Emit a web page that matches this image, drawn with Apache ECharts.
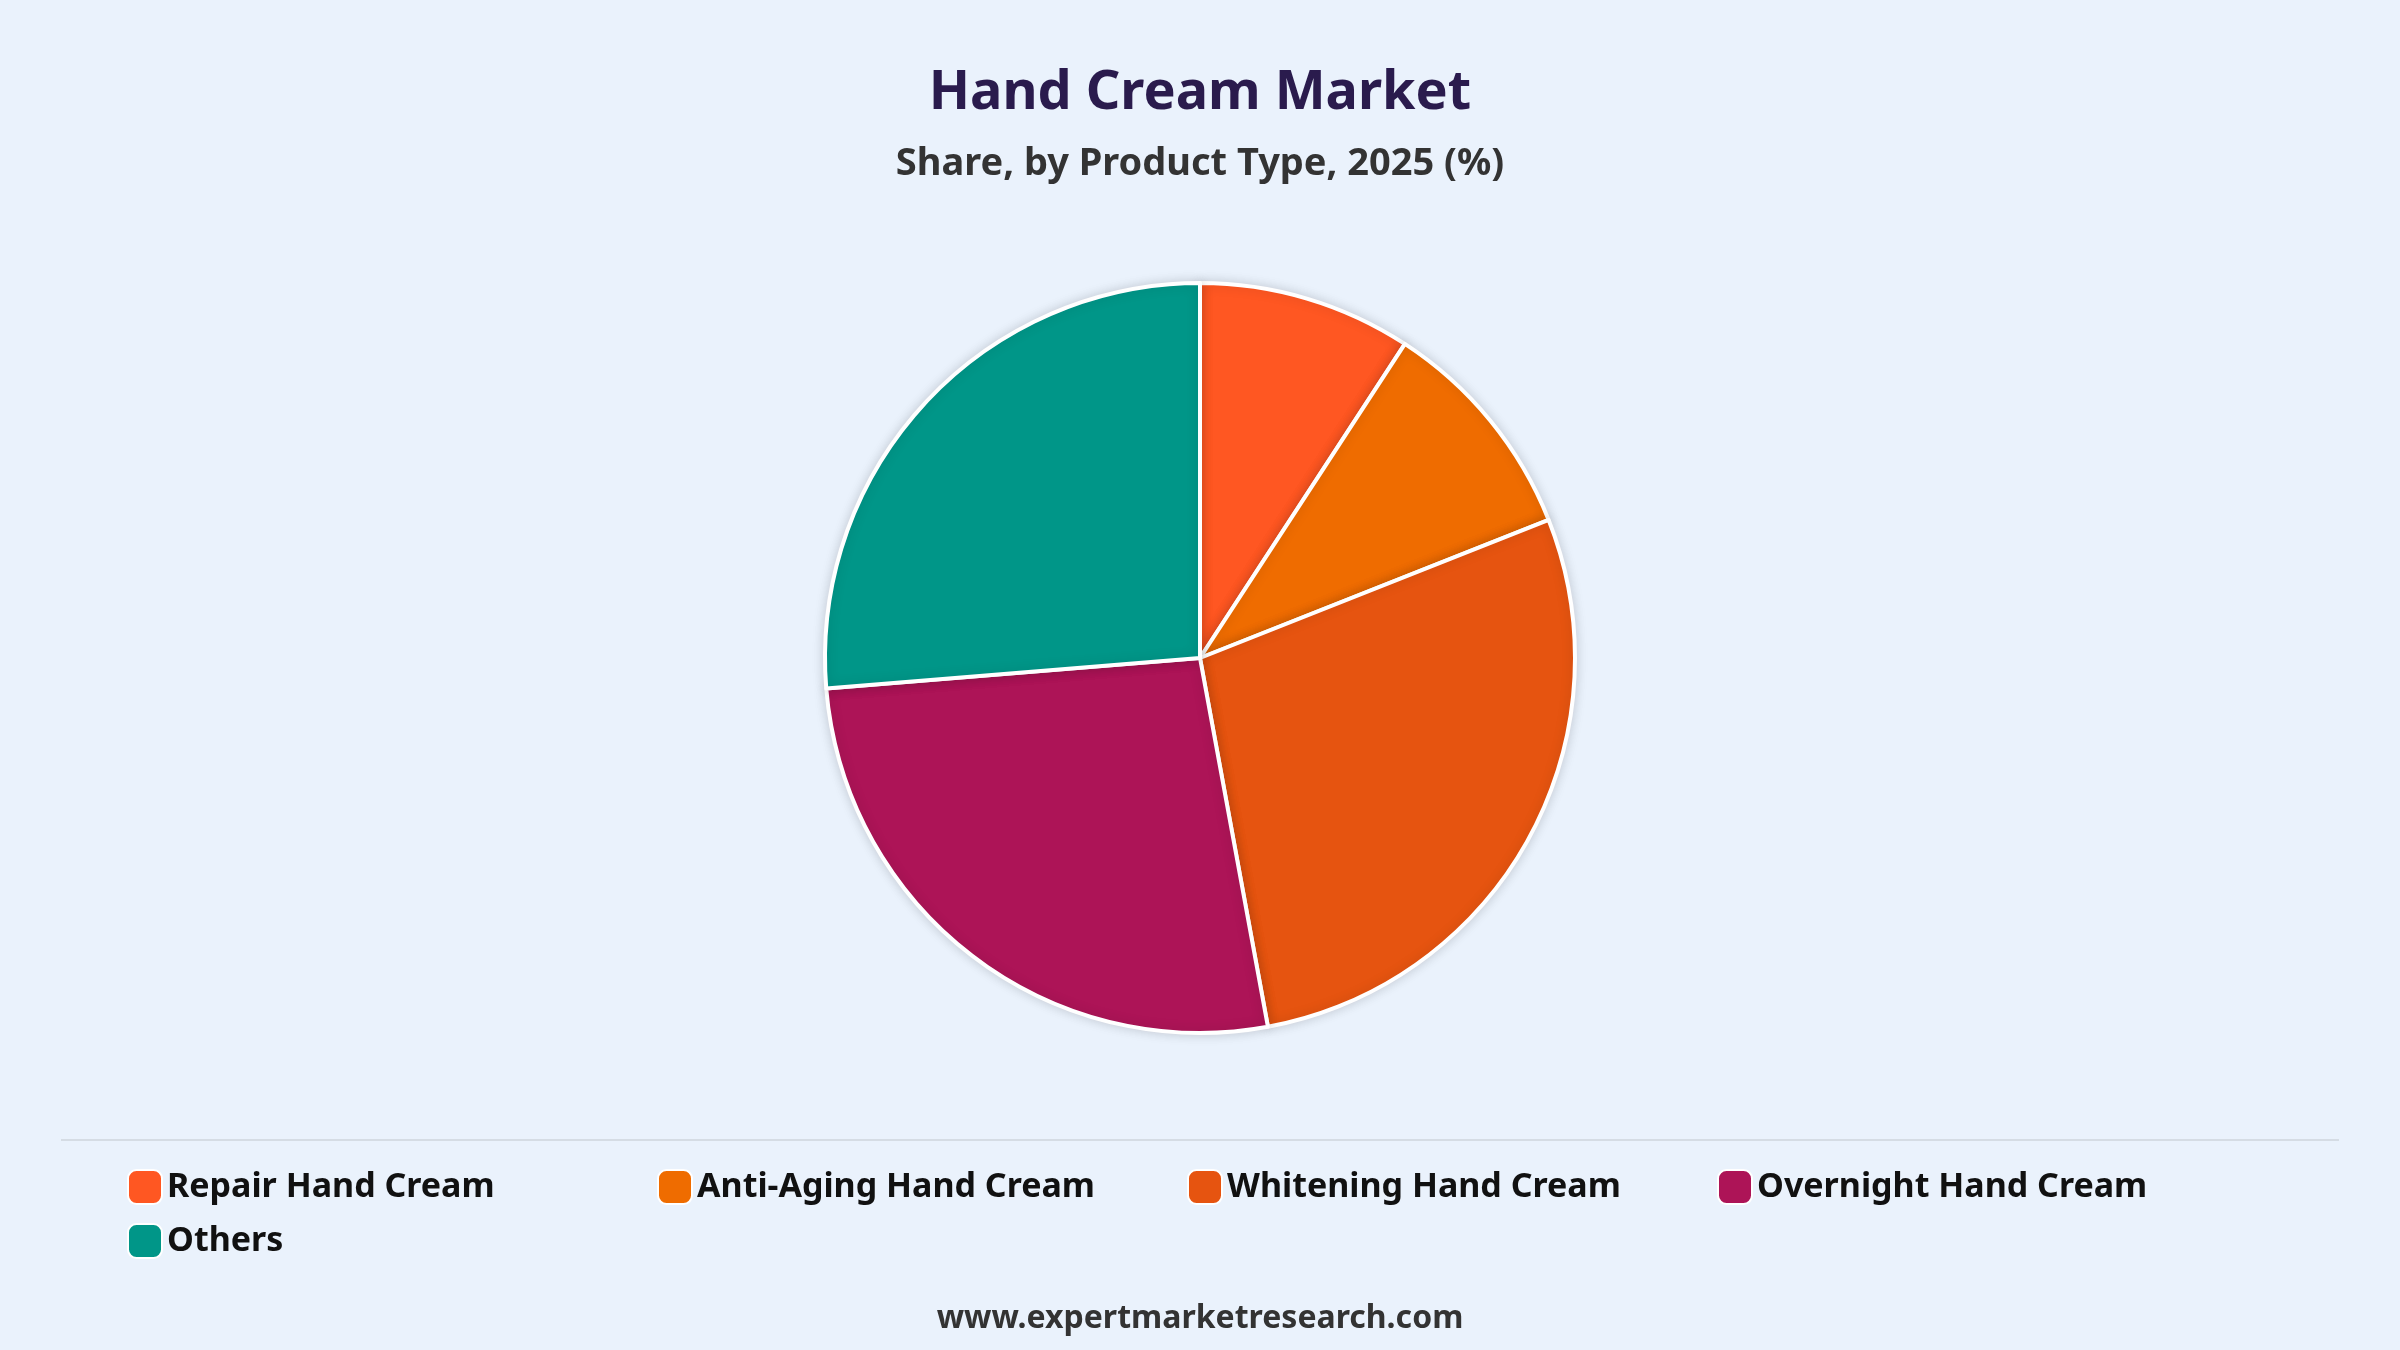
<!DOCTYPE html>
<html><head><meta charset="utf-8">
<script src="https://cdn.jsdelivr.net/npm/echarts@6/dist/echarts.min.js"></script>
<style>html,body{margin:0;padding:0;background:#EAF2FC}#c{width:2400px;height:1350px}</style>
</head><body><div id="c"></div>
<script>
const categories = ["Repair Hand Cream","Anti-Aging Hand Cream","Whitening Hand Cream","Overnight Hand Cream","Others"];
const values = [9.2, 9.8, 28.1, 26.6, 26.3];
const colors = ["#FF5722","#EF6C00","#E65410","#AD1457","#009688"];
const font = "'Noto Sans','Open Sans',sans-serif";
const chart = echarts.init(document.getElementById('c'));
chart.setOption({
  backgroundColor:'#EAF2FC',
  title:[
    {text:'Hand Cream Market',left:'center',top:62,textStyle:{fontFamily:font,fontSize:54,fontWeight:'bold',color:'#2A1B4D'}},
    {text:'Share, by Product Type, 2025 (%)',left:'center',top:140,textStyle:{fontFamily:font,fontSize:38,fontWeight:'bold',color:'#333'}},
    {text:'www.expertmarketresearch.com',left:'center',top:1298,textStyle:{fontFamily:font,fontSize:32,fontWeight:'bold',color:'#333'}}
  ],
  graphic:[{type:'line',shape:{x1:61,y1:1140,x2:2339,y2:1140},style:{stroke:'#D5DCE4',lineWidth:2}}],
  legend:{
    left:122,top:1155,width:2200,orient:'horizontal',
    itemWidth:34,itemHeight:34,itemGap:0,icon:'roundRect',
    textStyle:{fontFamily:font,fontSize:34,fontWeight:'bold',color:'#111',width:490,lineHeight:54},
    data:categories
  },
  series:[{
    type:'pie',center:[1200,658],radius:[0,375],startAngle:90,clockwise:true,
    label:{show:false},labelLine:{show:false},
    itemStyle:{borderColor:'#fff',borderWidth:4,shadowBlur:12,shadowColor:'rgba(0,0,0,0.15)'},
    emphasis:{disabled:true},
    data:categories.map((n,i)=>({name:n,value:values[i],itemStyle:{color:colors[i]}}))
  }]
});
</script></body></html>
